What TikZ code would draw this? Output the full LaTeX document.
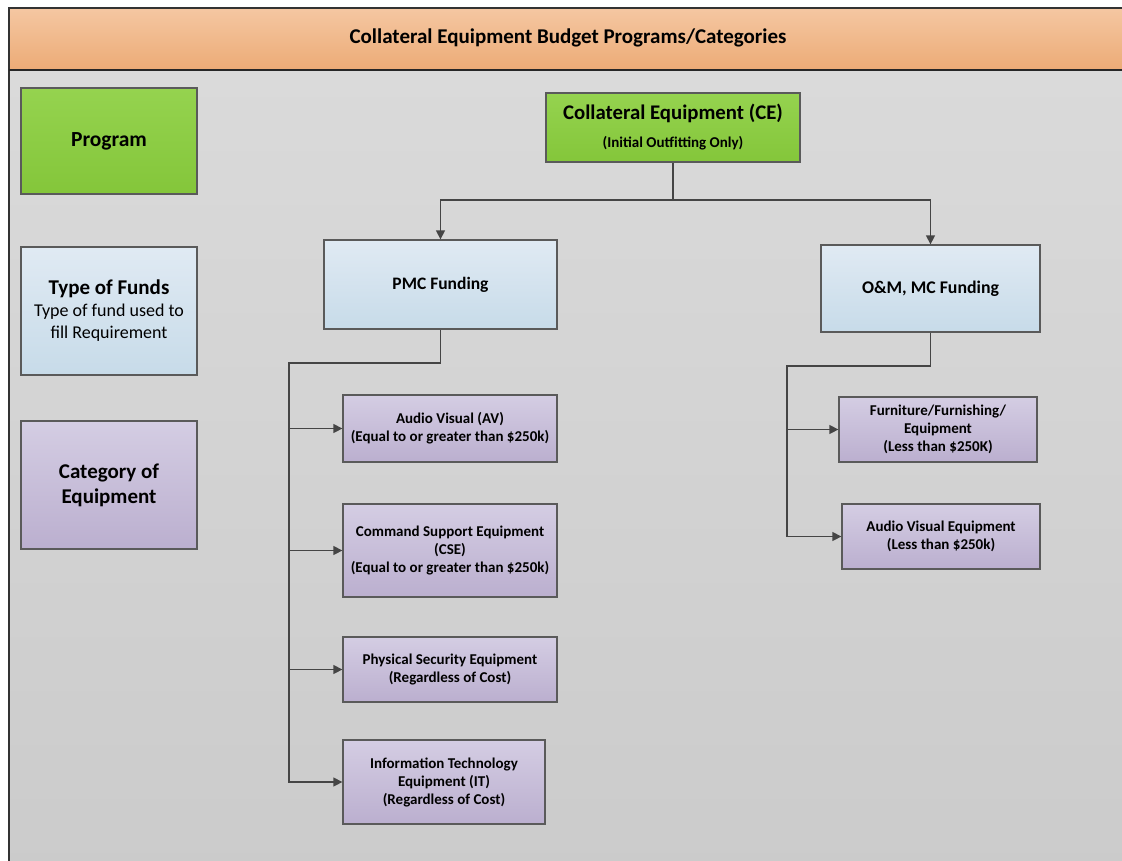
\documentclass[tikz,border=0pt]{standalone}
\usepackage{fontspec}
\setmainfont{Carlito}
\usetikzlibrary{arrows.meta}
\definecolor{hdrtop}{HTML}{F5C7A2}
\definecolor{hdrbot}{HTML}{ECAB76}
\definecolor{bgtop}{HTML}{DADADA}
\definecolor{bgbot}{HTML}{CBCBCB}
\definecolor{grtop}{HTML}{95D34F}
\definecolor{grbot}{HTML}{84C63A}
\definecolor{bltop}{HTML}{E0EAF3}
\definecolor{blbot}{HTML}{C7DBE9}
\definecolor{pptop}{HTML}{D4CDE3}
\definecolor{ppbot}{HTML}{BBAFCF}
\definecolor{edge}{HTML}{5A5A5A}
\definecolor{wire}{HTML}{454545}
\tikzset{
  x=1pt, y=-1pt,
  box/.style={draw=edge, line width=1.3pt, inner sep=2pt, align=center, text=black},
  greenbox/.style={box, top color=grtop, bottom color=grbot},
  bluebox/.style={box, top color=bltop, bottom color=blbot},
  purplebox/.style={box, top color=pptop, bottom color=ppbot},
  conn/.style={draw=wire, line width=1.4pt},
  arr/.style={conn, -{Triangle[length=9pt,width=9pt]}},
  small/.style={font=\fontsize{15}{18}\selectfont\bfseries},
}
\begin{document}
\begin{tikzpicture}
\useasboundingbox (0,0) rectangle (1122,860);
\clip (0,0) rectangle (1122,860);
\fill[white] (0,0) rectangle (1122,860);
% gray body
\shade[top color=bgtop, bottom color=bgbot] (9,70) rectangle (1140,880);
% header
\shade[top color=hdrtop, bottom color=hdrbot] (9,8) rectangle (1140,70);
\draw[draw=black!80, line width=1.2pt] (9,880) -- (9,8) -- (1140,8);
\draw[draw=black!85, line width=1.6pt] (9,70) -- (1140,70);
\node[font=\fontsize{21}{24}\selectfont\bfseries] (title) at (568,38) {Collateral Equipment Budget Programs/Categories};

% legend
\node[greenbox, minimum width=176pt, minimum height=106pt, font=\fontsize{21.5}{24}\selectfont\bfseries] (prog) at (109,141) {Program};
\node[bluebox, minimum width=176pt, minimum height=128pt, font=\fontsize{18}{22}\selectfont] (funds) at (109,311)
  {{\fontsize{21}{23}\selectfont\bfseries Type of Funds}\\Type of fund used to\\fill Requirement};
\node[purplebox, minimum width=176pt, minimum height=128pt, font=\fontsize{21}{25}\selectfont\bfseries] (cat) at (109,485) {Category of\\Equipment};

% main nodes
\node[greenbox, minimum width=254pt, minimum height=69pt, font=\fontsize{15}{28}\selectfont\bfseries] (ce) at (673,127.5)
  {{\fontsize{20.8}{24}\selectfont Collateral Equipment (CE)}\\(Initial Outfitting Only)};
\node[bluebox, minimum width=233pt, minimum height=89pt, font=\fontsize{17.5}{20}\selectfont\bfseries] (pmc) at (440.5,284.5) {PMC Funding};
\node[bluebox, minimum width=219pt, minimum height=87pt, font=\fontsize{17.8}{20}\selectfont\bfseries] (om) at (930.5,288.5) {O\&M, MC Funding};

\node[purplebox, small, minimum width=214pt, minimum height=67pt] (av) at (450,428.5) {Audio Visual (AV)\\(Equal to or greater than \$250k)};
\node[purplebox, small, minimum width=214pt, minimum height=93pt] (cse) at (450,550.5) {Command Support Equipment\\(CSE)\\(Equal to or greater than \$250k)};
\node[purplebox, small, minimum width=214pt, minimum height=65pt] (pse) at (450,669.5) {Physical Security Equipment\\(Regardless of Cost)};
\node[purplebox, small, minimum width=202pt, minimum height=84pt] (it) at (444,782) {Information Technology\\Equipment (IT)\\(Regardless of Cost)};
\node[purplebox, small, minimum width=198pt, minimum height=65pt] (ffe) at (938,429.5) {Furniture/Furnishing/\\Equipment\\(Less than \$250K)};
\node[purplebox, small, minimum width=198pt, minimum height=65pt] (ave) at (941,536.5) {Audio Visual Equipment\\(Less than \$250k)};

% connectors
\coordinate (j1) at (ce.south |- 0,200);
\coordinate (j2) at (289,363);
\coordinate (j3) at (787,366);
\draw[conn] (ce.south) -- (j1);
\draw[arr] (j1) -| (pmc.north);
\draw[arr] (j1) -| (om.north);
\draw[arr] (pmc.south) |- (j2) |- (it.west);
\draw[arr] (j2 |- av.west) -- (av.west);
\draw[arr] (j2 |- cse.west) -- (cse.west);
\draw[arr] (j2 |- pse.west) -- (pse.west);
\draw[arr] (om.south) |- (j3) |- (ave.west);
\draw[arr] (j3 |- ffe.west) -- (ffe.west);
\end{tikzpicture}
\end{document}
